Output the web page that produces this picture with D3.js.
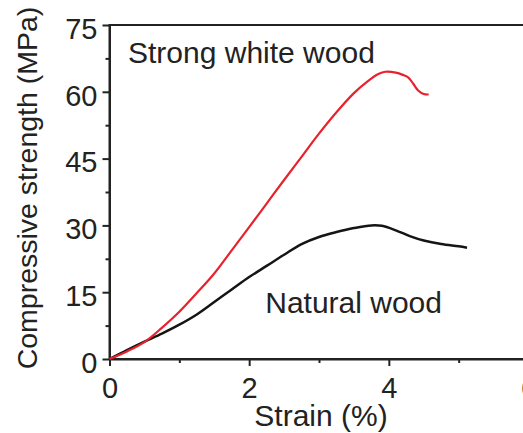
<!DOCTYPE html>
<html>
<head>
<meta charset="utf-8">
<script src="https://cdn.jsdelivr.net/npm/d3@7"></script>
<style>
  html, body { margin: 0; padding: 0; background: #fff; }
  svg { display: block; font-family: "Liberation Sans", Arial, Helvetica, sans-serif; }
  .axis path, .axis line { stroke: #222; }
  .axis text { fill: #222; }
</style>
</head>
<body>
<svg id="chart" width="523" height="433"></svg>
<script>
// stress-strain curves, strain in %, stress in MPa
const whiteStrain = [0, 0.25, 0.5, 0.75, 1.0, 1.25, 1.5, 1.75, 2.0, 2.25, 2.5, 2.75, 3.0, 3.25, 3.5, 3.7, 3.85, 3.95, 4.1, 4.2, 4.28, 4.35, 4.42, 4.5, 4.57];
const whiteStress = [0, 1.7, 3.8, 7.0, 10.6, 14.8, 19.2, 24.4, 29.6, 34.9, 40.2, 45.4, 50.6, 55.4, 59.7, 62.4, 64.0, 64.5, 64.3, 63.8, 63.2, 61.8, 60.3, 59.5, 59.4];

const naturalStrain = [0, 0.25, 0.5, 0.75, 1.0, 1.25, 1.5, 1.75, 2.0, 2.25, 2.5, 2.75, 3.0, 3.25, 3.5, 3.75, 3.9, 4.1, 4.3, 4.5, 4.75, 5.0, 5.12];
const naturalStress = [0, 2.0, 3.9, 5.7, 7.7, 10.0, 12.8, 15.6, 18.4, 20.9, 23.4, 25.8, 27.4, 28.5, 29.4, 30.0, 29.9, 28.9, 27.6, 26.6, 25.8, 25.3, 25.0];

const xTicks = [0, 2, 4, 6];
const xMinorTicks = [1, 3, 5];
const yTicks = [0, 15, 30, 45, 60, 75];
const yMinorTicks = [7.5, 22.5, 37.5, 52.5, 67.5];

// label text and anchor point in data units
const labels = [
  { text: "Strong white wood", x: 0.265, y: 66.5 },
  { text: "Natural wood", x: 2.23, y: 10.3 },
];

const svg = d3.select("#chart");

const x = d3.scaleLinear().domain([0, 6]).range([109.5, 528.5]);
const y = d3.scaleLinear().domain([0, 75]).range([359, 25]);

// frame (right side falls outside the window)
svg.append("rect")
  .attr("x", x(0))
  .attr("y", y(75))
  .attr("width", x(6) - x(0))
  .attr("height", y(0) - y(75))
  .attr("fill", "none")
  .attr("stroke", "#222")
  .attr("stroke-width", 2);

// y axis
const yAxis = svg.append("g")
  .attr("class", "axis")
  .attr("transform", `translate(${x(0)},0)`)
  .call(d3.axisLeft(y).tickValues(yTicks).tickFormat(d3.format("d")).tickSize(7).tickPadding(5).tickSizeOuter(0));
yAxis.select(".domain").attr("stroke-width", 2);
yAxis.selectAll(".tick line").attr("stroke-width", 2);
yAxis.selectAll("text")
  .attr("font-size", 29)
  .attr("dy", "0.46em")
  .attr("font-family", "'Liberation Sans', Arial, sans-serif");

svg.append("g")
  .attr("class", "axis")
  .attr("transform", `translate(${x(0)},0)`)
  .call(d3.axisLeft(y).tickValues(yMinorTicks).tickSize(4).tickFormat(""))
  .call((g) => g.select(".domain").remove())
  .call((g) => g.selectAll("line").attr("stroke-width", 2));

// x axis
const xAxis = svg.append("g")
  .attr("class", "axis")
  .attr("transform", `translate(0,${y(0)})`)
  .call(d3.axisBottom(x).tickValues(xTicks).tickFormat(d3.format("d")).tickSize(7).tickPadding(11).tickSizeOuter(0));
xAxis.select(".domain").attr("stroke-width", 2);
xAxis.selectAll(".tick line").attr("stroke-width", 2);
xAxis.selectAll("text")
  .attr("font-size", 29)
  .attr("dy", "0.71em")
  .attr("font-family", "'Liberation Sans', Arial, sans-serif");

svg.append("g")
  .attr("class", "axis")
  .attr("transform", `translate(0,${y(0)})`)
  .call(d3.axisBottom(x).tickValues(xMinorTicks).tickSize(4).tickFormat(""))
  .call((g) => g.select(".domain").remove())
  .call((g) => g.selectAll("line").attr("stroke-width", 2));

// axis titles
svg.append("text")
  .attr("x", 321)
  .attr("y", 426)
  .attr("text-anchor", "middle")
  .attr("font-size", 30)
  .attr("fill", "#222")
  .text("Strain (%)");

svg.append("text")
  .attr("transform", "translate(37,188) rotate(-90)")
  .attr("text-anchor", "middle")
  .attr("font-size", 28.5)
  .attr("fill", "#222")
  .text("Compressive strength (MPa)");

// curves
const line = d3.line()
  .x((d) => x(d[0]))
  .y((d) => y(d[1]))
  .curve(d3.curveCatmullRom.alpha(0.5));

svg.append("path")
  .datum(naturalStrain.map((s, i) => [s, naturalStress[i]]))
  .attr("fill", "none")
  .attr("stroke", "#151515")
  .attr("stroke-width", 2.5)
  .attr("d", line);

svg.append("path")
  .datum(whiteStrain.map((s, i) => [s, whiteStress[i]]))
  .attr("fill", "none")
  .attr("stroke", "#e8222c")
  .attr("stroke-width", 2.2)
  .attr("d", line);

// curve labels
svg.selectAll(".curve-label")
  .data(labels)
  .join("text")
  .attr("class", "curve-label")
  .attr("x", (d) => x(d.x))
  .attr("y", (d) => y(d.y))
  .attr("font-size", 30)
  .attr("fill", "#222")
  .text((d) => d.text);
</script>
</body>
</html>
